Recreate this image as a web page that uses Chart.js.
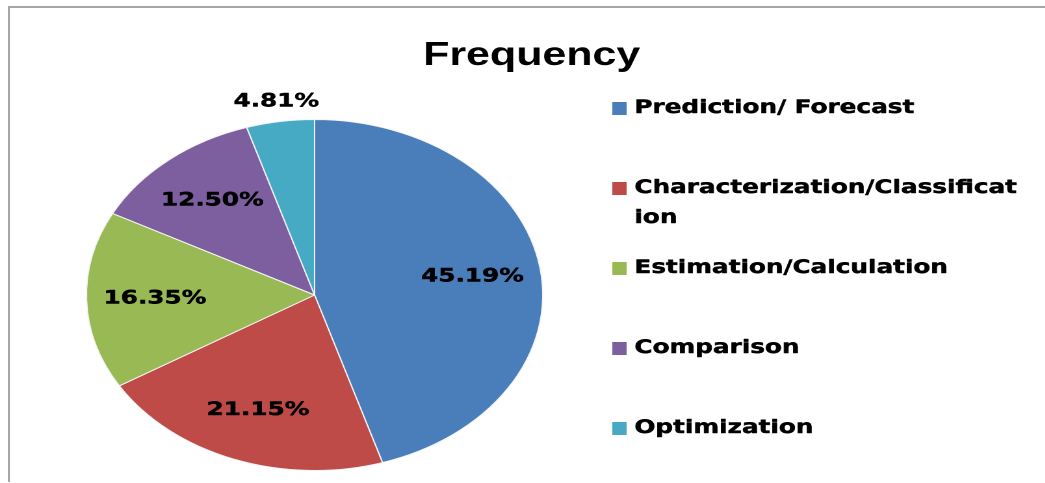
<!DOCTYPE html>
<html>
<head>
<meta charset="utf-8">
<script src="https://cdn.jsdelivr.net/npm/chart.js@4.4.1/dist/chart.umd.min.js"></script>
<style>
  html, body { margin: 0; padding: 0; background: #fff; }
  #frame {
    position: absolute; left: 0; top: 0; width: 1045px; height: 483px; overflow: hidden;
  }
  #border {
    position: absolute; left: 8px; top: 6px; width: 1100px; height: 474px;
    border-top: 2px solid #a6a6a6; border-left: 2px solid #a6a6a6;
  }
  /* source picture is stretched sideways, so the canvas is too */
  #wrap {
    position: absolute; left: 0; top: 0; width: 804px; height: 483px;
    transform: scaleX(1.3); transform-origin: 0 0;
  }
</style>
</head>
<body>
<div id="frame">
  <div id="border"></div>
  <div id="wrap"><canvas id="pie" width="804" height="483" style="width:804px;height:483px"></canvas></div>
</div>
<script>
// chart data
const title = 'Frequency';
const categories = ['Prediction/ Forecast', 'Characterization/Classification', 'Estimation/Calculation', 'Comparison', 'Optimization'];
const shares = [45.19, 21.15, 16.35, 12.50, 4.81];
const colors = ['#4a7ebb', '#be4b48', '#98b954', '#7d5fa0', '#46aac5'];

// heavy text: fill plus a thin stroke so it looks like Arial Black
function heavyText(ctx, txt, x, y) {
  ctx.fillText(txt, x, y);
  ctx.strokeText(txt, x, y);
}

// title, legend and slice labels
const decorations = {
  id: 'decorations',
  afterDatasetsDraw(chart) {
    const ctx = chart.ctx;
    ctx.save();

    // title
    ctx.fillStyle = '#000';
    ctx.font = 'bold 33px "Liberation Sans", Arial, sans-serif';
    ctx.textAlign = 'center';
    ctx.textBaseline = 'alphabetic';
    ctx.fillText(title, 409, 65);

    ctx.strokeStyle = '#000';
    ctx.lineWidth = 0.45;
    ctx.lineJoin = 'round';

    // percentage labels
    ctx.font = 'bold 19px "DejaVu Sans", sans-serif';
    ctx.textBaseline = 'middle';
    chart.getDatasetMeta(0).data.forEach((arc, i) => {
      const p = arc.getProps(['x', 'y', 'startAngle', 'endAngle', 'outerRadius'], true);
      const mid = (p.startAngle + p.endAngle) / 2;
      const r = shares[i] < 8 ? p.outerRadius + 20 : p.outerRadius * 0.7;
      heavyText(ctx, shares[i].toFixed(2) + '%', p.x + Math.cos(mid) * r, p.y + Math.sin(mid) * r);
    });

    // legend
    ctx.textAlign = 'left';
    const maxW = 300;
    categories.forEach((name, i) => {
      const y = 108 + i * 80;
      ctx.fillStyle = colors[i];
      ctx.fillRect(471, y - 6, 11, 13);
      ctx.fillStyle = '#000';
      // break by characters when too long
      const lines = [];
      let cur = '';
      for (const ch of name) {
        if (ctx.measureText(cur + ch).width > maxW && cur) {
          lines.push(cur);
          cur = ch;
        } else {
          cur += ch;
        }
      }
      lines.push(cur);
      lines.forEach((ln, k) => heavyText(ctx, ln, 488, y + k * 30));
    });
    ctx.restore();
  }
};

new Chart(document.getElementById('pie'), {
  type: 'pie',
  data: {
    labels: categories,
    datasets: [{
      data: shares,
      backgroundColor: colors,
      borderColor: '#f4f4f4',
      borderWidth: 1
    }]
  },
  options: {
    responsive: false,
    animation: false,
    devicePixelRatio: 2,
    layout: {
      padding: { left: 66, right: 386, top: 119, bottom: 12 }
    },
    plugins: {
      legend: { display: false },
      title: { display: false },
      tooltip: { enabled: false }
    }
  },
  plugins: [decorations]
});
</script>
</body>
</html>
